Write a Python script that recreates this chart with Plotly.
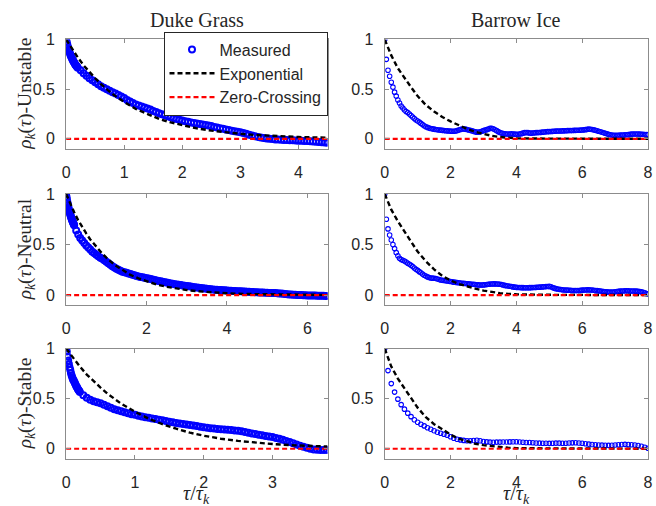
import numpy as np
import plotly.graph_objects as go

# ---------------- data ----------------
col_titles = ["Duke Grass", "Barrow Ice"]
row_labels = ["Unstable", "Neutral", "Stable"]

# Measured autocorrelation. Left panels: finely sampled head (lag step 0.01 from 0)
# followed by a main series (lag step 0.05 starting at 0.2). Right panels: single series.
head_step = 0.01

head_tl = [1.0, 0.975, 0.95, 0.925, 0.905, 0.885, 0.868, 0.852, 0.837, 0.823, 0.81, 0.798, 0.786, 0.775,
           0.765, 0.755, 0.746, 0.738, 0.73, 0.722]
meas_tl = [0.715, 0.69, 0.66, 0.635, 0.61, 0.59, 0.57, 0.55, 0.53, 0.515, 0.50, 0.485,
           0.47, 0.455, 0.44, 0.425, 0.41, 0.39, 0.375, 0.36, 0.345, 0.335, 0.325, 0.315, 0.305, 0.295, 0.28,
           0.27, 0.258, 0.247, 0.236, 0.226, 0.216, 0.207, 0.199, 0.192, 0.185, 0.178, 0.171, 0.165, 0.16,
           0.155, 0.15, 0.145, 0.14, 0.135, 0.128, 0.12, 0.113, 0.106, 0.10, 0.094, 0.088, 0.081, 0.075, 0.07,
           0.065, 0.058, 0.05, 0.042, 0.034, 0.026, 0.019, 0.012, 0.007, 0.003, 0.0, -0.003, -0.006, -0.008,
           -0.01, -0.011, -0.012, -0.014, -0.015, -0.017, -0.019, -0.02, -0.021, -0.023, -0.025, -0.027,
           -0.029, -0.032, -0.035, -0.038, -0.04]

head_ml = [1.0, 0.97, 0.945, 0.92, 0.90, 0.88, 0.862, 0.845, 0.828, 0.813, 0.80, 0.787, 0.775, 0.763,
           0.751, 0.74, 0.73, 0.72, 0.71, 0.70]
meas_ml = [0.69, 0.64, 0.60, 0.565, 0.54, 0.515, 0.49, 0.47, 0.45, 0.43, 0.415, 0.40,
           0.385, 0.37, 0.36, 0.345, 0.33, 0.315, 0.30, 0.285, 0.272, 0.26, 0.25, 0.24, 0.232, 0.226, 0.22,
           0.214, 0.208, 0.202, 0.196, 0.19, 0.185, 0.18, 0.176, 0.172, 0.168, 0.164, 0.16, 0.155, 0.15, 0.145,
           0.14, 0.136, 0.132, 0.128, 0.124, 0.12, 0.116, 0.112, 0.108, 0.105, 0.102, 0.099, 0.096, 0.093,
           0.09, 0.087, 0.084, 0.081, 0.078, 0.075, 0.072, 0.07, 0.067, 0.065, 0.062, 0.06, 0.058, 0.056,
           0.054, 0.053, 0.051, 0.05, 0.048, 0.047, 0.045, 0.044, 0.043, 0.041, 0.04, 0.039, 0.038, 0.037,
           0.036, 0.035, 0.034, 0.033, 0.031, 0.03, 0.029, 0.028, 0.027, 0.026, 0.025, 0.024, 0.023, 0.022,
           0.022, 0.021, 0.02, 0.019, 0.017, 0.015, 0.013, 0.011, 0.009, 0.007, 0.005, 0.004, 0.003, 0.002,
           0.001, 0.0, -0.001, -0.002, -0.003, -0.004, -0.004, -0.005, -0.005, -0.006, -0.006, -0.007, -0.007,
           -0.008, -0.008]

head_bl = [1.0, 0.97, 0.92, 0.88, 0.845, 0.81, 0.785, 0.755, 0.73, 0.71, 0.69, 0.68, 0.665, 0.65, 0.635,
           0.62, 0.61, 0.595, 0.585, 0.575]
meas_bl = [0.565, 0.535, 0.51, 0.49, 0.475, 0.465, 0.455, 0.44, 0.425, 0.41, 0.395,
           0.385, 0.375, 0.365, 0.355, 0.345, 0.338, 0.33, 0.322, 0.315, 0.308, 0.302, 0.296, 0.29, 0.284,
           0.277, 0.27, 0.264, 0.258, 0.252, 0.247, 0.242, 0.237, 0.232, 0.226, 0.22, 0.214, 0.209, 0.205,
           0.201, 0.198, 0.195, 0.192, 0.189, 0.186, 0.183, 0.179, 0.174, 0.168, 0.16, 0.152, 0.146, 0.14,
           0.134, 0.128, 0.122, 0.116, 0.108, 0.1, 0.09, 0.078, 0.066, 0.054, 0.042, 0.031, 0.02, 0.01, 0.0,
           -0.007, -0.011, -0.013, -0.013, -0.012]

meas_tr = [1.00, 0.80, 0.69, 0.63, 0.57, 0.52, 0.47, 0.43, 0.39, 0.36, 0.33, 0.31, 0.29, 0.275, 0.265, 0.25,
           0.235, 0.22, 0.205, 0.19, 0.18, 0.168, 0.155, 0.143, 0.132, 0.122, 0.115, 0.108, 0.104, 0.10, 0.097,
           0.094, 0.091, 0.089, 0.087, 0.085, 0.083, 0.081, 0.08, 0.078, 0.077, 0.076, 0.076, 0.078, 0.082,
           0.088, 0.094, 0.098, 0.099, 0.097, 0.093, 0.089, 0.085, 0.08, 0.075, 0.07, 0.067, 0.066, 0.07, 0.076,
           0.082, 0.087, 0.092, 0.099, 0.105, 0.107, 0.10, 0.091, 0.082, 0.072, 0.064, 0.058, 0.054, 0.051,
           0.049, 0.048, 0.049, 0.05, 0.049, 0.047, 0.045, 0.046, 0.048, 0.052, 0.057, 0.062, 0.064, 0.062,
           0.059, 0.057, 0.058, 0.06, 0.062, 0.063, 0.064, 0.065, 0.067, 0.069, 0.071, 0.072, 0.073, 0.074,
           0.075, 0.076, 0.077, 0.078, 0.078, 0.079, 0.08, 0.08, 0.081, 0.082, 0.083, 0.083, 0.084, 0.085,
           0.085, 0.086, 0.086, 0.087, 0.088, 0.09, 0.092, 0.095, 0.097, 0.096, 0.093, 0.09, 0.086, 0.081,
           0.076, 0.071, 0.066, 0.06, 0.055, 0.05, 0.045, 0.041, 0.038, 0.036, 0.035, 0.035, 0.036, 0.037,
           0.038, 0.039, 0.04, 0.041, 0.043, 0.045, 0.047, 0.048, 0.049, 0.049, 0.048, 0.047, 0.046, 0.045,
           0.044, 0.043, 0.042]

meas_mr = [1.00, 0.75, 0.655, 0.595, 0.545, 0.50, 0.46, 0.42, 0.39, 0.365, 0.352, 0.345, 0.337, 0.328, 0.315,
           0.305, 0.295, 0.282, 0.268, 0.255, 0.245, 0.232, 0.22, 0.208, 0.197, 0.188, 0.18, 0.174, 0.17, 0.168,
           0.167, 0.164, 0.16, 0.155, 0.15, 0.147, 0.144, 0.142, 0.14, 0.137, 0.134, 0.131, 0.128, 0.126, 0.124,
           0.122, 0.12, 0.118, 0.117, 0.115, 0.113, 0.111, 0.109, 0.108, 0.107, 0.105, 0.103, 0.101, 0.1, 0.1,
           0.101, 0.103, 0.105, 0.107, 0.109, 0.11, 0.111, 0.111, 0.11, 0.109, 0.107, 0.104, 0.1, 0.096, 0.093,
           0.09, 0.087, 0.084, 0.081, 0.079, 0.077, 0.076, 0.075, 0.074, 0.074, 0.073, 0.073, 0.073, 0.074,
           0.074, 0.075, 0.076, 0.077, 0.078, 0.079, 0.08, 0.081, 0.082, 0.084, 0.085, 0.086, 0.083, 0.076,
           0.069, 0.064, 0.06, 0.057, 0.055, 0.053, 0.051, 0.05, 0.049, 0.048, 0.047, 0.046, 0.046, 0.045,
           0.045, 0.046, 0.047, 0.049, 0.05, 0.051, 0.052, 0.052, 0.051, 0.05, 0.048, 0.046, 0.044, 0.042, 0.04,
           0.038, 0.036, 0.034, 0.032, 0.031, 0.03, 0.03, 0.031, 0.033, 0.035, 0.037, 0.039, 0.04, 0.041, 0.042,
           0.042, 0.042, 0.041, 0.041, 0.04, 0.04, 0.039, 0.037, 0.035, 0.032, 0.028, 0.023, 0.016, 0.01]

meas_br = [1.00, 0.78, 0.65, 0.565, 0.495, 0.44, 0.395, 0.355, 0.32, 0.29, 0.265, 0.245, 0.228, 0.21, 0.195,
           0.18, 0.165, 0.155, 0.145, 0.135, 0.12, 0.105, 0.095, 0.088, 0.083, 0.08, 0.08, 0.082, 0.085, 0.08,
           0.072, 0.068, 0.066, 0.065, 0.066, 0.066, 0.067, 0.067, 0.068, 0.07, 0.07, 0.067, 0.065, 0.063,
           0.062, 0.06, 0.058, 0.056, 0.055, 0.055, 0.054, 0.055, 0.056, 0.056, 0.055, 0.055, 0.057, 0.059,
           0.06, 0.058, 0.055, 0.05, 0.046, 0.043, 0.04, 0.038, 0.036, 0.035, 0.034, 0.035, 0.037, 0.04, 0.043,
           0.044, 0.042, 0.04, 0.037, 0.032, 0.025, 0.015, 0.005]

# exponential fits
exp_x_tl = [0, 0.1, 0.2, 0.3, 0.4, 0.5, 0.6, 0.7, 0.8, 0.9, 1.0, 1.2, 1.4, 1.6, 1.8, 2.0, 2.25, 2.5, 2.75, 3.0,
            3.25, 3.5, 3.75, 4.0, 4.25, 4.5]
exp_y_tl = [1.0, 0.905, 0.82, 0.74, 0.67, 0.61, 0.55, 0.5, 0.45, 0.41, 0.37, 0.30, 0.25, 0.2, 0.165, 0.135,
            0.105, 0.082, 0.064, 0.05, 0.039, 0.03, 0.024, 0.018, 0.014, 0.011]
exp_x_ml = [0, 0.1, 0.2, 0.3, 0.4, 0.5, 0.6, 0.7, 0.8, 0.9, 1.0, 1.2, 1.4, 1.6, 1.8, 2.0, 2.25, 2.5, 2.75, 3.0,
            3.25, 3.5, 3.75, 4.0, 4.5, 5.0, 5.5, 6.0, 6.5]
exp_y_ml = [1.0, 0.905, 0.82, 0.74, 0.67, 0.61, 0.55, 0.5, 0.45, 0.41, 0.37, 0.30, 0.25, 0.2, 0.165, 0.135,
            0.105, 0.082, 0.064, 0.05, 0.039, 0.03, 0.024, 0.018, 0.011, 0.007, 0.004, 0.0025, 0.0015]
exp_x_bl = [0, 0.1, 0.2, 0.3, 0.4, 0.5, 0.6, 0.7, 0.8, 0.9, 1.0, 1.2, 1.4, 1.6, 1.8, 2.0, 2.25, 2.5, 2.75, 3.0,
            3.25, 3.5, 3.8]
exp_y_bl = [1.0, 0.905, 0.82, 0.74, 0.67, 0.61, 0.55, 0.5, 0.45, 0.41, 0.37, 0.30, 0.245, 0.2, 0.16, 0.13,
            0.1, 0.078, 0.06, 0.047, 0.036, 0.028, 0.022]
exp_x_r = [0, 0.2, 0.4, 0.6, 0.8, 1.0, 1.25, 1.5, 1.75, 2.0, 2.25, 2.5, 2.75, 3.0, 3.25, 3.5, 3.75, 4.0, 5.0,
           6.0, 7.0, 8.0]
exp_y_tr = [1.0, 0.84, 0.71, 0.61, 0.52, 0.43, 0.34, 0.275, 0.22, 0.175, 0.135, 0.1, 0.07, 0.048, 0.03, 0.018,
            0.01, 0.005, 0.002, 0.001, 0.0, 0.0]
exp_y_mr = [1.0, 0.845, 0.73, 0.63, 0.525, 0.43, 0.335, 0.255, 0.19, 0.145, 0.11, 0.085, 0.065, 0.045, 0.03,
            0.02, 0.012, 0.008, 0.003, 0.001, 0.0, 0.0]
exp_y_br = [1.0, 0.82, 0.70, 0.60, 0.50, 0.41, 0.315, 0.245, 0.195, 0.14, 0.10, 0.075, 0.05, 0.036, 0.025,
            0.017, 0.01, 0.005, 0.002, 0.001, 0.0, 0.0]

x_max = [[4.5, 8.0], [6.5, 8.0], [3.8, 8.0]]
x_ticks = [[[0, 1, 2, 3, 4], [0, 2, 4, 6, 8]],
           [[0, 2, 4, 6], [0, 2, 4, 6, 8]],
           [[0, 1, 2, 3], [0, 2, 4, 6, 8]]]
y_ticks = [0, 0.5, 1]
y_ticklabels = ["0", "0.5", "1"]

# (head values, main values, main start lag, main step)
measured = [[(head_tl, meas_tl, 0.2, 0.05), ([], meas_tr, 0.0, 0.05)],
            [(head_ml, meas_ml, 0.2, 0.05), ([], meas_mr, 0.0, 0.05)],
            [(head_bl, meas_bl, 0.2, 0.05), ([], meas_br, 0.0, 0.1)]]
expo = [[(exp_x_tl, exp_y_tl), (exp_x_r, exp_y_tr)],
        [(exp_x_ml, exp_y_ml), (exp_x_r, exp_y_mr)],
        [(exp_x_bl, exp_y_bl), (exp_x_r, exp_y_br)]]

# ---------------- layout geometry (pixels) ----------------
W, H = 656, 506
col_px = [(63, 328), (386, 653)]
row_px = [(32, 143), (189, 302), (346, 458)]

BLUE = "#0000ff"
AX = "#8c8c8c"
TXT = "#262626"
SANS = "Liberation Sans, Arial, sans-serif"
SERIF = "Liberation Serif, Times New Roman, serif"

fig = go.Figure()
layout = {}
n = 0
for r in range(3):
    for c in range(2):
        n += 1
        xa = "x" if n == 1 else f"x{n}"
        ya = "y" if n == 1 else f"y{n}"
        head, main, start, step = measured[r][c]
        tau = np.concatenate([np.arange(len(head)) * head_step,
                              start + np.arange(len(main)) * step])
        vals = list(head) + list(main)
        left = (c == 0)
        fig.add_trace(go.Scatter(
            x=np.round(tau, 3), y=vals, mode="markers", name="Measured", legendgroup="m",
            showlegend=(n == 1), xaxis=xa, yaxis=ya,
            marker=dict(symbol="circle-open", color=BLUE,
                        size=6 if left else 4.5,
                        line=dict(color=BLUE, width=2 if left else 1.1))))
        ex, ey = expo[r][c]
        fig.add_trace(go.Scatter(
            x=ex, y=ey, mode="lines", name="Exponential", legendgroup="e",
            showlegend=(n == 1), xaxis=xa, yaxis=ya,
            line=dict(color="black", width=2.4, dash="5px,3px")))
        fig.add_trace(go.Scatter(
            x=[0, x_max[r][c]], y=[0, 0], mode="lines", name="Zero-Crossing", legendgroup="z",
            showlegend=(n == 1), xaxis=xa, yaxis=ya,
            line=dict(color="#ff0000", width=2.2, dash="5px,3px")))

        common = dict(showline=True, linecolor=AX, linewidth=1, mirror="ticks",
                      ticks="inside", ticklen=4, tickcolor=AX, tickwidth=1,
                      showgrid=False, zeroline=False, ticklabeloverflow="allow",
                      tickfont=dict(family=SANS, size=16, color=TXT))
        x0, x1 = col_px[c]
        y0, y1 = row_px[r]
        layout["xaxis" if n == 1 else f"xaxis{n}"] = dict(
            common, domain=[x0 / W, x1 / W], range=[0, x_max[r][c]],
            tickvals=x_ticks[r][c], ticktext=[str(v) for v in x_ticks[r][c]],
            anchor=ya, ticklabelstandoff=9)
        layout["yaxis" if n == 1 else f"yaxis{n}"] = dict(
            common, domain=[1 - y1 / H, 1 - y0 / H], range=[-0.1, 1],
            tickvals=y_ticks, ticktext=y_ticklabels, anchor=xa, ticklabelstandoff=7)

annotations = []
for c in range(2):
    xc = (col_px[c][0] + col_px[c][1]) / 2 / W
    annotations.append(dict(text=col_titles[c], x=xc, y=1 - 12 / H, xref="paper", yref="paper",
                            showarrow=False, xanchor="center", yanchor="middle",
                            font=dict(family=SERIF, size=20, color=TXT)))
    annotations.append(dict(text="<i>τ</i>/<i>τ<sub>k</sub></i>", x=xc, y=1 - 494 / H,
                            xref="paper", yref="paper", showarrow=False,
                            xanchor="center", yanchor="middle",
                            font=dict(family=SERIF, size=20, color=TXT)))
for r in range(3):
    yc = 1 - (row_px[r][0] + row_px[r][1]) / 2 / H
    annotations.append(dict(text=f"<i>ρ<sub>k</sub></i>(<i>τ</i>)-{row_labels[r]}",
                            x=22 / W, y=yc, xref="paper", yref="paper", showarrow=False,
                            textangle=-90, xanchor="center", yanchor="middle",
                            font=dict(family=SERIF, size=19.5, color=TXT)))

fig.update_layout(
    **layout,
    width=W, height=H,
    margin=dict(l=0, r=0, t=0, b=0),
    paper_bgcolor="white", plot_bgcolor="white",
    annotations=annotations,
    legend=dict(x=328 / W, y=1 - 24 / H, xanchor="right", yanchor="top",
                bgcolor="white", bordercolor=TXT, borderwidth=1,
                font=dict(family=SANS, size=16, color=TXT),
                tracegroupgap=0, itemwidth=45),
    showlegend=True,
)

fig.write_html("out.html")
